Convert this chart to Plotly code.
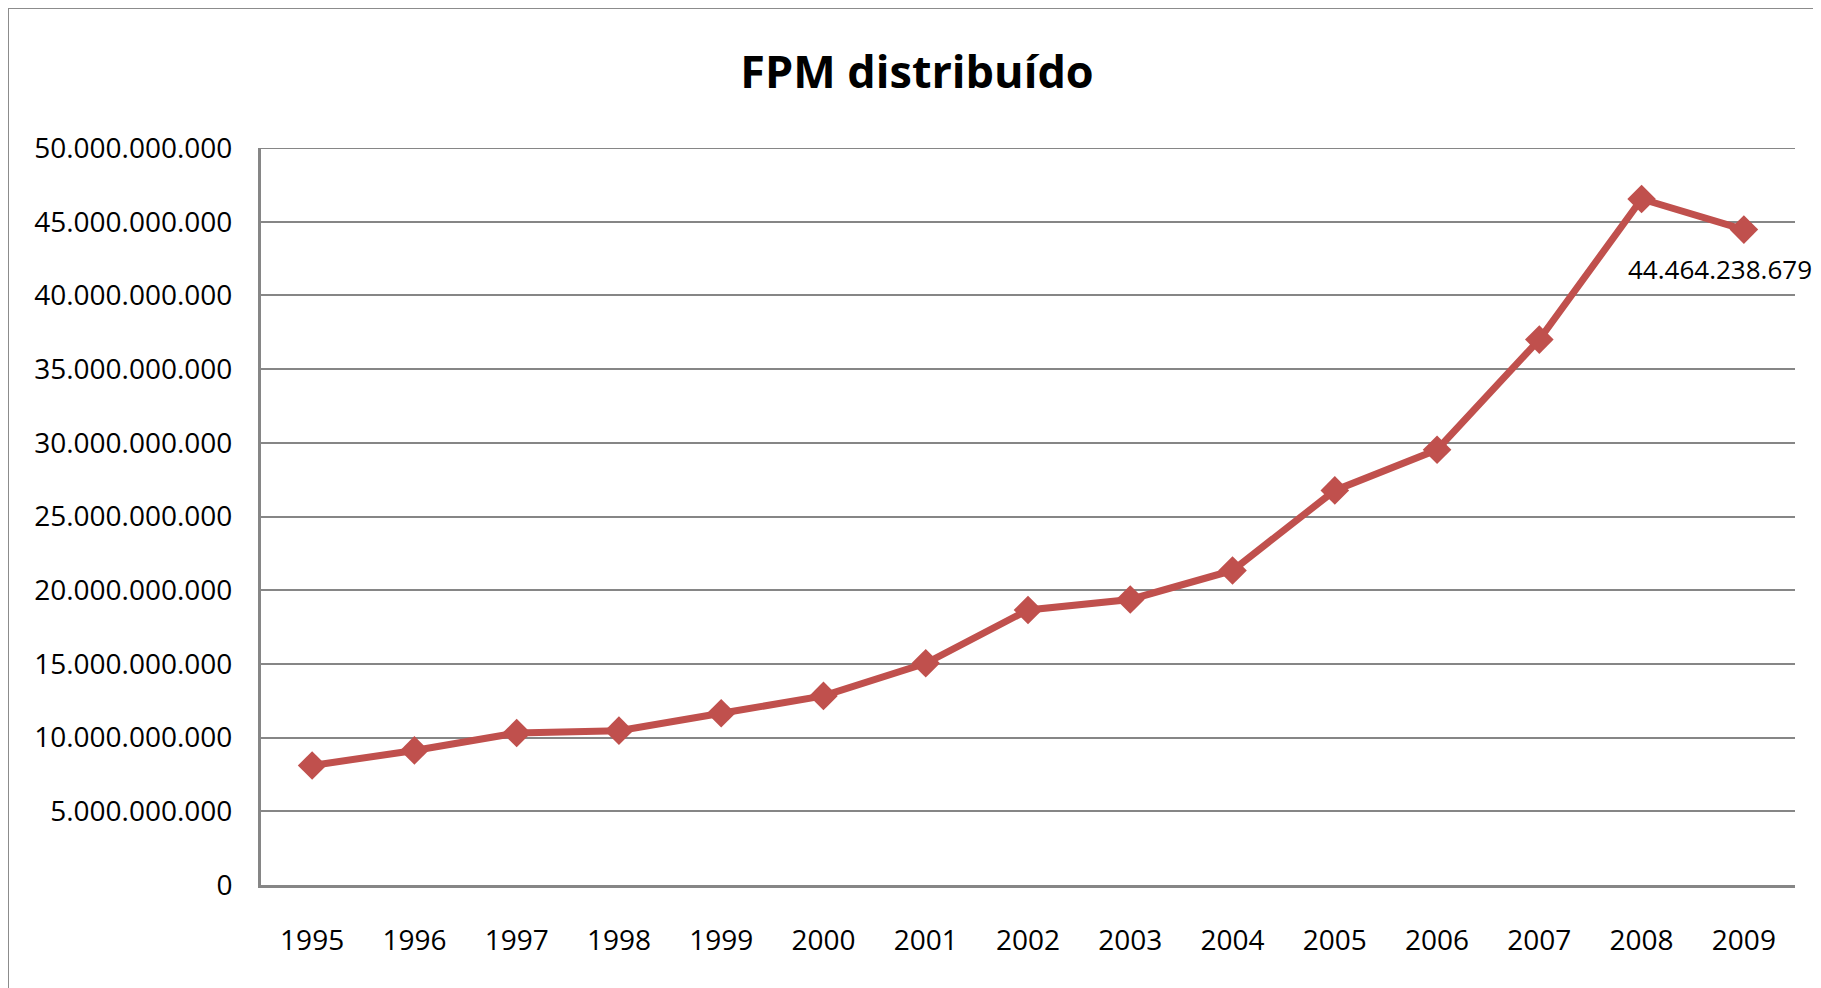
import plotly.graph_objects as go

years = ["1995", "1996", "1997", "1998", "1999", "2000", "2001", "2002",
         "2003", "2004", "2005", "2006", "2007", "2008", "2009"]
values = [8.11e9, 9.13e9, 10.31e9, 10.47e9, 11.65e9, 12.83e9, 15.04e9, 18.66e9,
          19.37e9, 21.34e9, 26.77e9, 29.53e9, 37.0e9, 46.54e9, 44464238679]
y_ticks = [0, 5e9, 10e9, 15e9, 20e9, 25e9, 30e9, 35e9, 40e9, 45e9, 50e9]
title_text = "FPM distribuído"

# page has an 8px body margin, so figure pixel = page pixel - 8
W, H = 1813, 980
ml, mr, mt, mb = 253, 26, 140, 103
pw, ph = W - ml - mr, H - mt - mb
y_max = 50e9

RED = "#C0504D"
GRID = "#868686"
FONT = "Open Sans"

fig = go.Figure()
fig.add_trace(go.Scatter(
    x=years, y=values, mode="lines+markers",
    line=dict(color=RED, width=7),
    marker=dict(symbol="diamond", size=22, color=RED),
    showlegend=False, hoverinfo="x+y",
))

last_label = f"{int(values[-1]):,}".replace(",", ".")
n = len(years)
fig.add_annotation(
    xref="paper", yref="paper",
    x=(n - 1 + 0.5) / n, y=values[-1] / y_max,
    text=last_label, showarrow=False,
    xanchor="center", yanchor="middle", xshift=-24, yshift=-39,
    font=dict(family=FONT, size=26, color="#000000"),
)

# top gridline at the last tick (plotly hides the one on the plot edge)
fig.add_shape(
    type="line", xref="paper", yref="y",
    x0=0, x1=1, y0=y_ticks[-1], y1=y_ticks[-1],
    line=dict(color=GRID, width=2), layer="below",
)

# outer chart border
fig.add_shape(
    type="rect", xref="paper", yref="paper",
    x0=(0 - ml) / pw, x1=(W + 50 - ml) / pw,
    y0=(0 - mb - 50) / ph, y1=(H - mb) / ph,
    line=dict(color="#8C8C8C", width=2), fillcolor="rgba(0,0,0,0)", layer="below",
)

fig.update_layout(
    width=W, height=H,
    margin=dict(l=ml, r=mr, t=mt, b=mb),
    paper_bgcolor="white", plot_bgcolor="white",
    separators=",.",
    title=dict(text=f"<b>{title_text}</b>", x=909 / W, y=1 - 64 / H,
               xref="container", yref="container", xanchor="center", yanchor="middle",
               font=dict(family=FONT, size=45, color="#000000")),
    xaxis=dict(
        type="category", range=[-0.5, n - 0.5],
        showline=True, linecolor=GRID, linewidth=3,
        showgrid=False, ticks="", ticklabelstandoff=28,
        tickfont=dict(family=FONT, size=28, color="#000000"),
        fixedrange=True,
    ),
    yaxis=dict(
        range=[0, y_max], tickvals=y_ticks, tickformat=",d",
        showline=True, linecolor=GRID, linewidth=3,
        showgrid=True, gridcolor=GRID, gridwidth=2,
        zeroline=False, ticks="", ticklabelstandoff=20,
        tickfont=dict(family=FONT, size=28, color="#000000"),
        fixedrange=True,
    ),
)

fig.write_html("out.html")
